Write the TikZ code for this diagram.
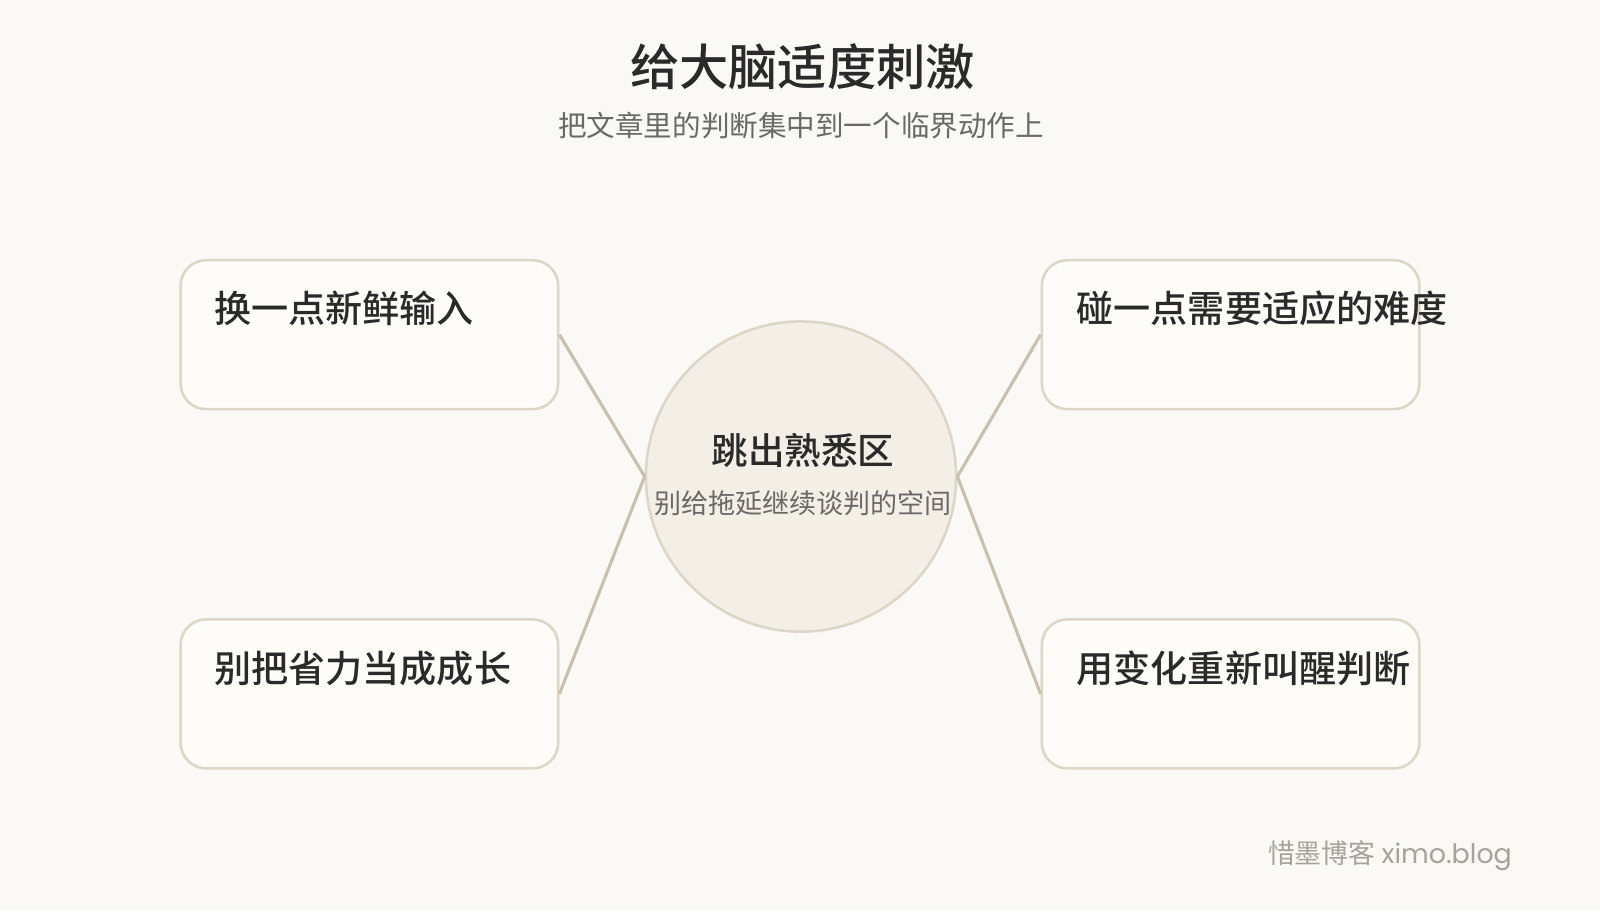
\documentclass[tikz,border=0pt]{standalone}
\usepackage{fontspec}
\setmainfont{Noto Sans CJK SC}
\newfontfamily\medfont{Noto Sans CJK SC Medium}
\newfontfamily\markfont{Poppins}
\usetikzlibrary{positioning}
\def\px{0.020408cm}
\definecolor{paper}{HTML}{FAF9F6}
\definecolor{ink}{HTML}{2A2A2A}
\definecolor{inkgray}{HTML}{6C6964}
\definecolor{hubfill}{HTML}{F3EFE7}
\definecolor{hubline}{HTML}{DDD5C5}
\definecolor{cardfill}{HTML}{FDFCF9}
\definecolor{cardline}{HTML}{DDD5C5}
\definecolor{wire}{HTML}{C8BFAE}
\definecolor{markgray}{HTML}{A8A298}
\tikzset{
	card/.style={draw=cardline, fill=cardfill, line width=2.5*\px, rounded corners=25*\px,
		minimum width=370*\px, minimum height=146*\px, inner sep=0pt},
	cardtext/.style={anchor=west, inner sep=0pt, text=ink, font=\fontsize{21.1}{25}\selectfont\medfont},
	hub/.style={circle, draw=hubline, fill=hubfill, line width=2.5*\px, minimum size=304*\px, inner sep=0pt},
	wire/.style={draw=wire, line width=3*\px}
}
\begin{document}
\begin{tikzpicture}[x=\px, y=-\px]
			%%%%% START %%%%%
			
			\fill[paper] (0, 0) rectangle (1568, 892.8);
			\useasboundingbox (0, 0) rectangle (1568, 892.8);
			
			\node[text=ink, font=\fontsize{28}{33}\selectfont\medfont] (title) at (786.5, 65) {给大脑适度刺激};
			\node[text=inkgray, font=\fontsize{16.25}{19}\selectfont] (subtitle) at (785, 123) {把文章里的判断集中到一个临界动作上};
			
			\node[hub] (hub) at (785, 467) {};
			\node[text=ink, font=\fontsize{20.8}{24}\selectfont\medfont, inner sep=0pt] (hubtitle) at (787, 441) {跳出熟悉区};
			\node[text=inkgray, font=\fontsize{15.4}{18}\selectfont, inner sep=0pt] (hubsub) at (787, 493) {别给拖延继续谈判的空间};
			
			\node[card] (tl) at (362, 328) {};
			\node[card] (tr) at (1206, 328) {};
			\node[card] (bl) at (362, 680) {};
			\node[card] (br) at (1206, 680) {};
			
			\node[cardtext] (tltext) at ([xshift=34*\px, yshift=-48*\px]tl.north west) {换一点新鲜输入};
			\node[cardtext] (trtext) at ([xshift=35*\px, yshift=-48*\px]tr.north west) {碰一点需要适应的难度};
			\node[cardtext] (bltext) at ([xshift=34*\px, yshift=-49*\px]bl.north west) {别把省力当成成长};
			\node[cardtext] (brtext) at ([xshift=35*\px, yshift=-49*\px]br.north west) {用变化重新叫醒判断};
			
			\draw[wire] (tl.east) -- (hub.west);
			\draw[wire] (bl.east) -- (hub.west);
			\draw[wire] (tr.west) -- (hub.east);
			\draw[wire] (br.west) -- (hub.east);
			
			\node[text=markgray, font=\fontsize{15.3}{18}\selectfont, anchor=east, inner sep=0pt] (mark) at (1482, 839) {惜墨博客 {\markfont ximo.blog}};
			
			%%%%% END %%%%%
\end{tikzpicture}
\end{document}
